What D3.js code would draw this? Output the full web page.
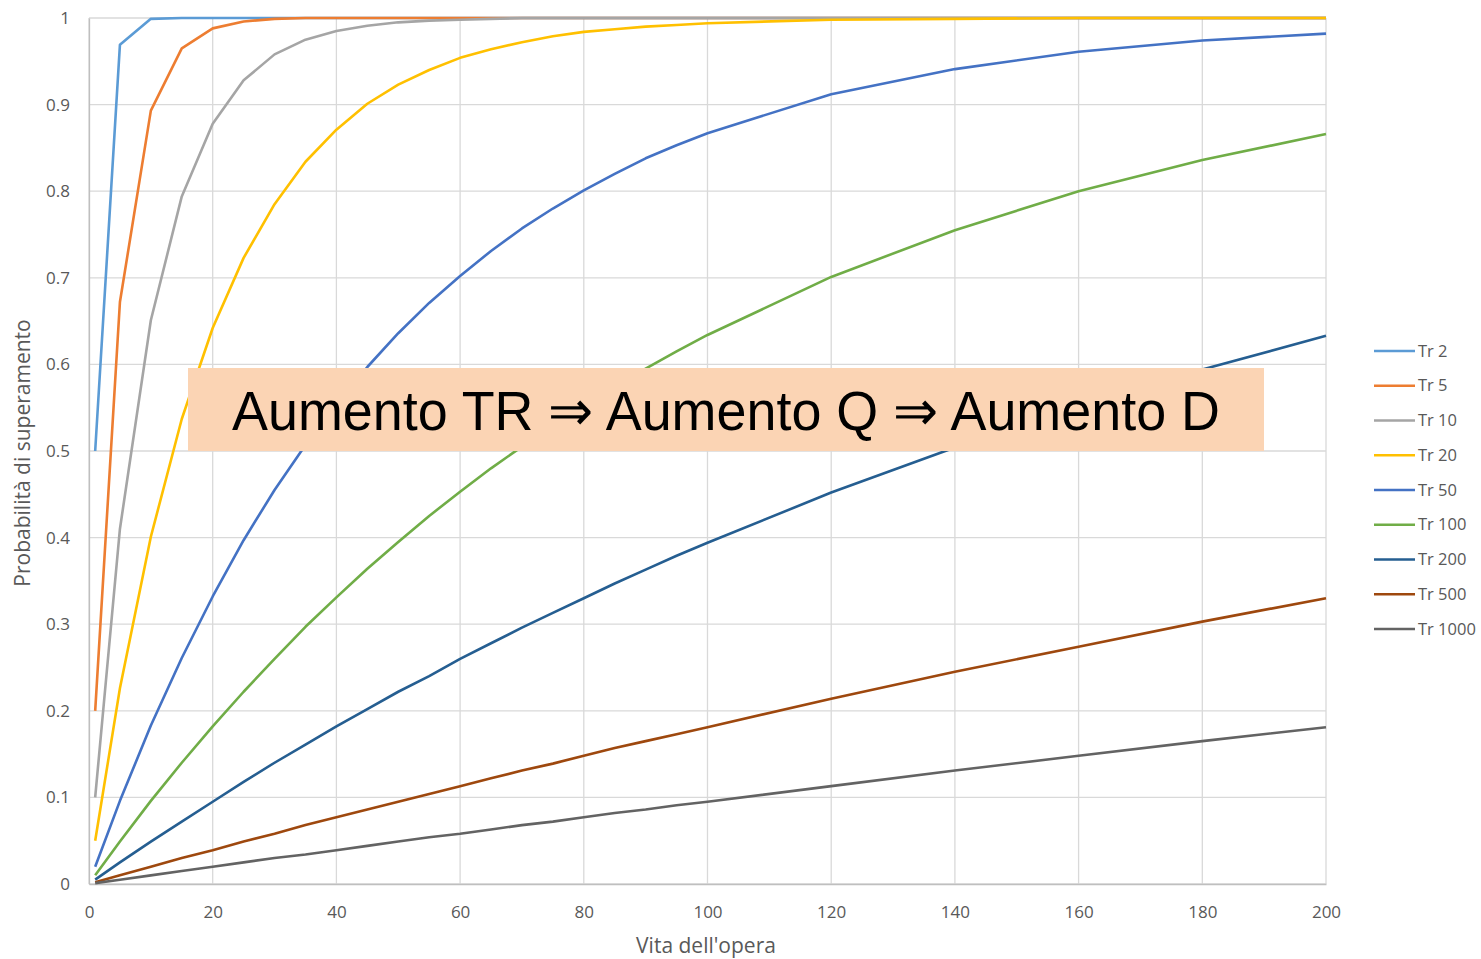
<!DOCTYPE html>
<html><head><meta charset="utf-8">
<script src="https://cdn.jsdelivr.net/npm/d3@7"></script>
<style>body{margin:0;background:#fff}svg{display:block}</style>
</head><body>
<svg id="c" width="1481" height="959"></svg>
<script>
const xs = [1,5,10,15,20,25,30,35,40,45,50,55,60,65,70,75,80,85,90,95,100,120,140,160,180,200];
const tr2   = [0.5,0.969,0.999,1,1,1,1,1,1,1,1,1,1,1,1,1,1,1,1,1,1,1,1,1,1,1];
const tr5   = [0.2,0.672,0.893,0.965,0.988,0.996,0.999,1,1,1,1,1,1,1,1,1,1,1,1,1,1,1,1,1,1,1];
const tr10  = [0.1,0.41,0.651,0.794,0.878,0.928,0.958,0.975,0.985,0.991,0.995,0.997,0.998,0.999,1,1,1,1,1,1,1,1,1,1,1,1];
const tr20  = [0.05,0.226,0.401,0.537,0.642,0.723,0.785,0.834,0.871,0.901,0.923,0.94,0.954,0.964,0.972,0.979,0.984,0.987,0.99,0.992,0.994,0.998,0.999,1,1,1];
const tr50  = [0.02,0.096,0.183,0.261,0.332,0.397,0.455,0.507,0.554,0.597,0.636,0.671,0.702,0.731,0.757,0.78,0.801,0.82,0.838,0.853,0.867,0.912,0.941,0.961,0.974,0.982];
const tr100 = [0.01,0.049,0.096,0.14,0.182,0.222,0.26,0.297,0.331,0.364,0.395,0.425,0.453,0.48,0.505,0.529,0.552,0.574,0.595,0.615,0.634,0.701,0.755,0.8,0.836,0.866];
const tr200 = [0.005,0.025,0.049,0.072,0.095,0.118,0.14,0.161,0.182,0.202,0.222,0.24,0.26,0.278,0.296,0.313,0.33,0.347,0.363,0.379,0.394,0.452,0.504,0.552,0.594,0.633];
const tr500 = [0.002,0.01,0.02,0.03,0.039,0.049,0.058,0.068,0.077,0.086,0.095,0.104,0.113,0.122,0.131,0.139,0.148,0.157,0.165,0.173,0.181,0.214,0.245,0.274,0.303,0.33];
const tr1000= [0.001,0.005,0.01,0.015,0.02,0.025,0.03,0.034,0.039,0.044,0.049,0.054,0.058,0.063,0.068,0.072,0.077,0.082,0.086,0.091,0.095,0.113,0.131,0.148,0.165,0.181];
const seriesNames = ["Tr 2","Tr 5","Tr 10","Tr 20","Tr 50","Tr 100","Tr 200","Tr 500","Tr 1000"];
const seriesValues = [tr2,tr5,tr10,tr20,tr50,tr100,tr200,tr500,tr1000];
const colors = ["#5B9BD5","#ED7D31","#A5A5A5","#FFC000","#4472C4","#70AD47","#255E91","#9E480E","#636363"];
const xTicks = [0,20,40,60,80,100,120,140,160,180,200];
const yTicks = [0,0.1,0.2,0.3,0.4,0.5,0.6,0.7,0.8,0.9,1];
const xTitle = "Vita dell'opera";
const yTitle = "Probabilità di superamento";
const banner = "Aumento TR \u21D2 Aumento Q \u21D2 Aumento D";

const svg = d3.select("#c");
const L=89,R=1326,T=18,B=884;
const x = d3.scaleLinear().domain([0,200]).range([L,R]);
const y = d3.scaleLinear().domain([0,1]).range([B,T]);
const font = "'Open Sans', sans-serif";
const grid = "#d9d9d9";

svg.append("g").selectAll("line").data(yTicks).join("line")
  .attr("x1",L).attr("x2",R).attr("y1",d=>y(d)).attr("y2",d=>y(d))
  .attr("stroke",grid).attr("stroke-width",1.3);
svg.append("g").selectAll("line").data(xTicks).join("line")
  .attr("x1",d=>x(d)).attr("x2",d=>x(d)).attr("y1",T).attr("y2",B)
  .attr("stroke",grid).attr("stroke-width",1.3);

const xa = svg.append("g").attr("transform",`translate(0,${B})`)
  .call(d3.axisBottom(x).tickValues(xTicks).tickSize(0).tickPadding(22).tickFormat(d3.format("d")));
xa.select(".domain").attr("stroke","#bfbfbf").attr("stroke-width",1.3);
const ya = svg.append("g").attr("transform",`translate(${L},0)`)
  .call(d3.axisLeft(y).tickValues(yTicks).tickSize(0).tickPadding(19).tickFormat(d=>d===0||d===1?String(d):d3.format(".1f")(d)));
ya.select(".domain").attr("stroke","#bfbfbf").attr("stroke-width",1.3);
svg.selectAll(".tick text").attr("font-family",font).attr("font-size",17).attr("fill","#595959");

const line = d3.line().x((d,i)=>x(xs[i])).y(d=>y(d));
seriesValues.forEach((vals,k)=>{
  svg.append("path").datum(vals).attr("d",line).attr("fill","none")
    .attr("stroke",colors[k]).attr("stroke-width",2.6).attr("stroke-linejoin","round");
});

svg.append("text").attr("x",706).attr("y",953).attr("text-anchor","middle")
  .attr("font-family",font).attr("font-size",21).attr("fill","#595959").text(xTitle);
svg.append("text").attr("transform",`translate(30,${(T+B)/2+2}) rotate(-90)`).attr("text-anchor","middle")
  .attr("font-family",font).attr("font-size",21).attr("fill","#595959").text(yTitle);

const lg = svg.append("g");
seriesNames.forEach((n,k)=>{
  const yy = 351 + k*34.75;
  lg.append("line").attr("x1",1374).attr("x2",1415).attr("y1",yy).attr("y2",yy)
    .attr("stroke",colors[k]).attr("stroke-width",2.6);
  lg.append("text").attr("x",1418).attr("y",yy+5.5).attr("font-family",font).attr("font-size",16.5)
    .attr("fill","#595959").text(n);
});

svg.append("rect").attr("x",188).attr("y",368).attr("width",1076).attr("height",83).attr("fill","#FBD4B4");
svg.append("text").attr("x",232).attr("y",430).attr("font-family","'Liberation Sans Narrow', 'Liberation Sans', Arial, sans-serif")
  .attr("font-size",56).attr("fill","#000").attr("textLength",988).attr("lengthAdjust","spacingAndGlyphs").text(banner);
</script>
</body></html>
